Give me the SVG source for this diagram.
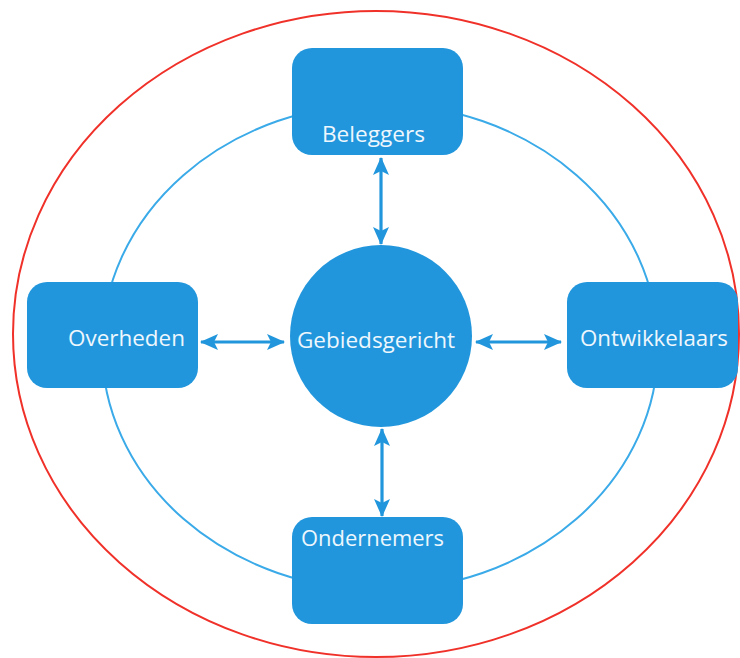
<svg xmlns="http://www.w3.org/2000/svg" width="740" height="658" viewBox="0 0 740 658">
  <style>
    .node { fill: #2196dc; }
    .lbl { font-family: "Open Sans", "Noto Sans", "DejaVu Sans", sans-serif; font-size: 21px; fill: #eef7fd; }
    .conn { stroke: #2196dc; stroke-width: 3.2; fill: none; }
    .ring { fill: none; stroke: #3aaae8; stroke-width: 2; }
    .outer { fill: none; stroke: #f0312a; stroke-width: 2; }
  </style>
  <defs>
    <marker id="ah" viewBox="0 0 18 16" refX="17" refY="8" markerWidth="18" markerHeight="16" markerUnits="userSpaceOnUse" orient="auto-start-reverse">
      <path d="M0,0 L18,8 L0,16 L4,8 z" fill="#2196dc"/>
    </marker>
  </defs>
  <rect width="740" height="658" fill="#ffffff"/>
  <g id="outer-ellipse">
    <ellipse class="outer" cx="376" cy="334" rx="363" ry="323"/>
  </g>
  <g id="ring">
    <ellipse class="ring" cx="380" cy="347" rx="278" ry="243"/>
  </g>
  <g id="connectors">
    <line class="conn" x1="381" y1="158" x2="381" y2="244" marker-start="url(#ah)" marker-end="url(#ah)"/>
    <line class="conn" x1="382" y1="429" x2="382" y2="516" marker-start="url(#ah)" marker-end="url(#ah)"/>
    <line class="conn" x1="201" y1="342" x2="284" y2="342" marker-start="url(#ah)" marker-end="url(#ah)"/>
    <line class="conn" x1="476" y1="342" x2="561" y2="342" marker-start="url(#ah)" marker-end="url(#ah)"/>
  </g>
  <g id="beleggers">
    <rect class="node" x="292" y="48" width="171" height="107" rx="20"/>
    <text class="lbl" x="322" y="142" textLength="103" lengthAdjust="spacingAndGlyphs">Beleggers</text>
  </g>
  <g id="overheden">
    <rect class="node" x="27" y="282" width="171" height="106" rx="20"/>
    <text class="lbl" x="68" y="346" textLength="117" lengthAdjust="spacingAndGlyphs">Overheden</text>
  </g>
  <g id="ontwikkelaars">
    <rect class="node" x="567" y="282" width="171" height="106" rx="20"/>
    <text class="lbl" x="580" y="346" textLength="148" lengthAdjust="spacingAndGlyphs">Ontwikkelaars</text>
  </g>
  <g id="ondernemers">
    <rect class="node" x="292" y="517" width="171" height="107" rx="20"/>
    <text class="lbl" x="301" y="546" textLength="143" lengthAdjust="spacingAndGlyphs">Ondernemers</text>
  </g>
  <g id="gebiedsgericht">
    <circle class="node" cx="381" cy="336" r="91"/>
    <text class="lbl" x="297" y="348" textLength="158" lengthAdjust="spacingAndGlyphs">Gebiedsgericht</text>
  </g>
</svg>
